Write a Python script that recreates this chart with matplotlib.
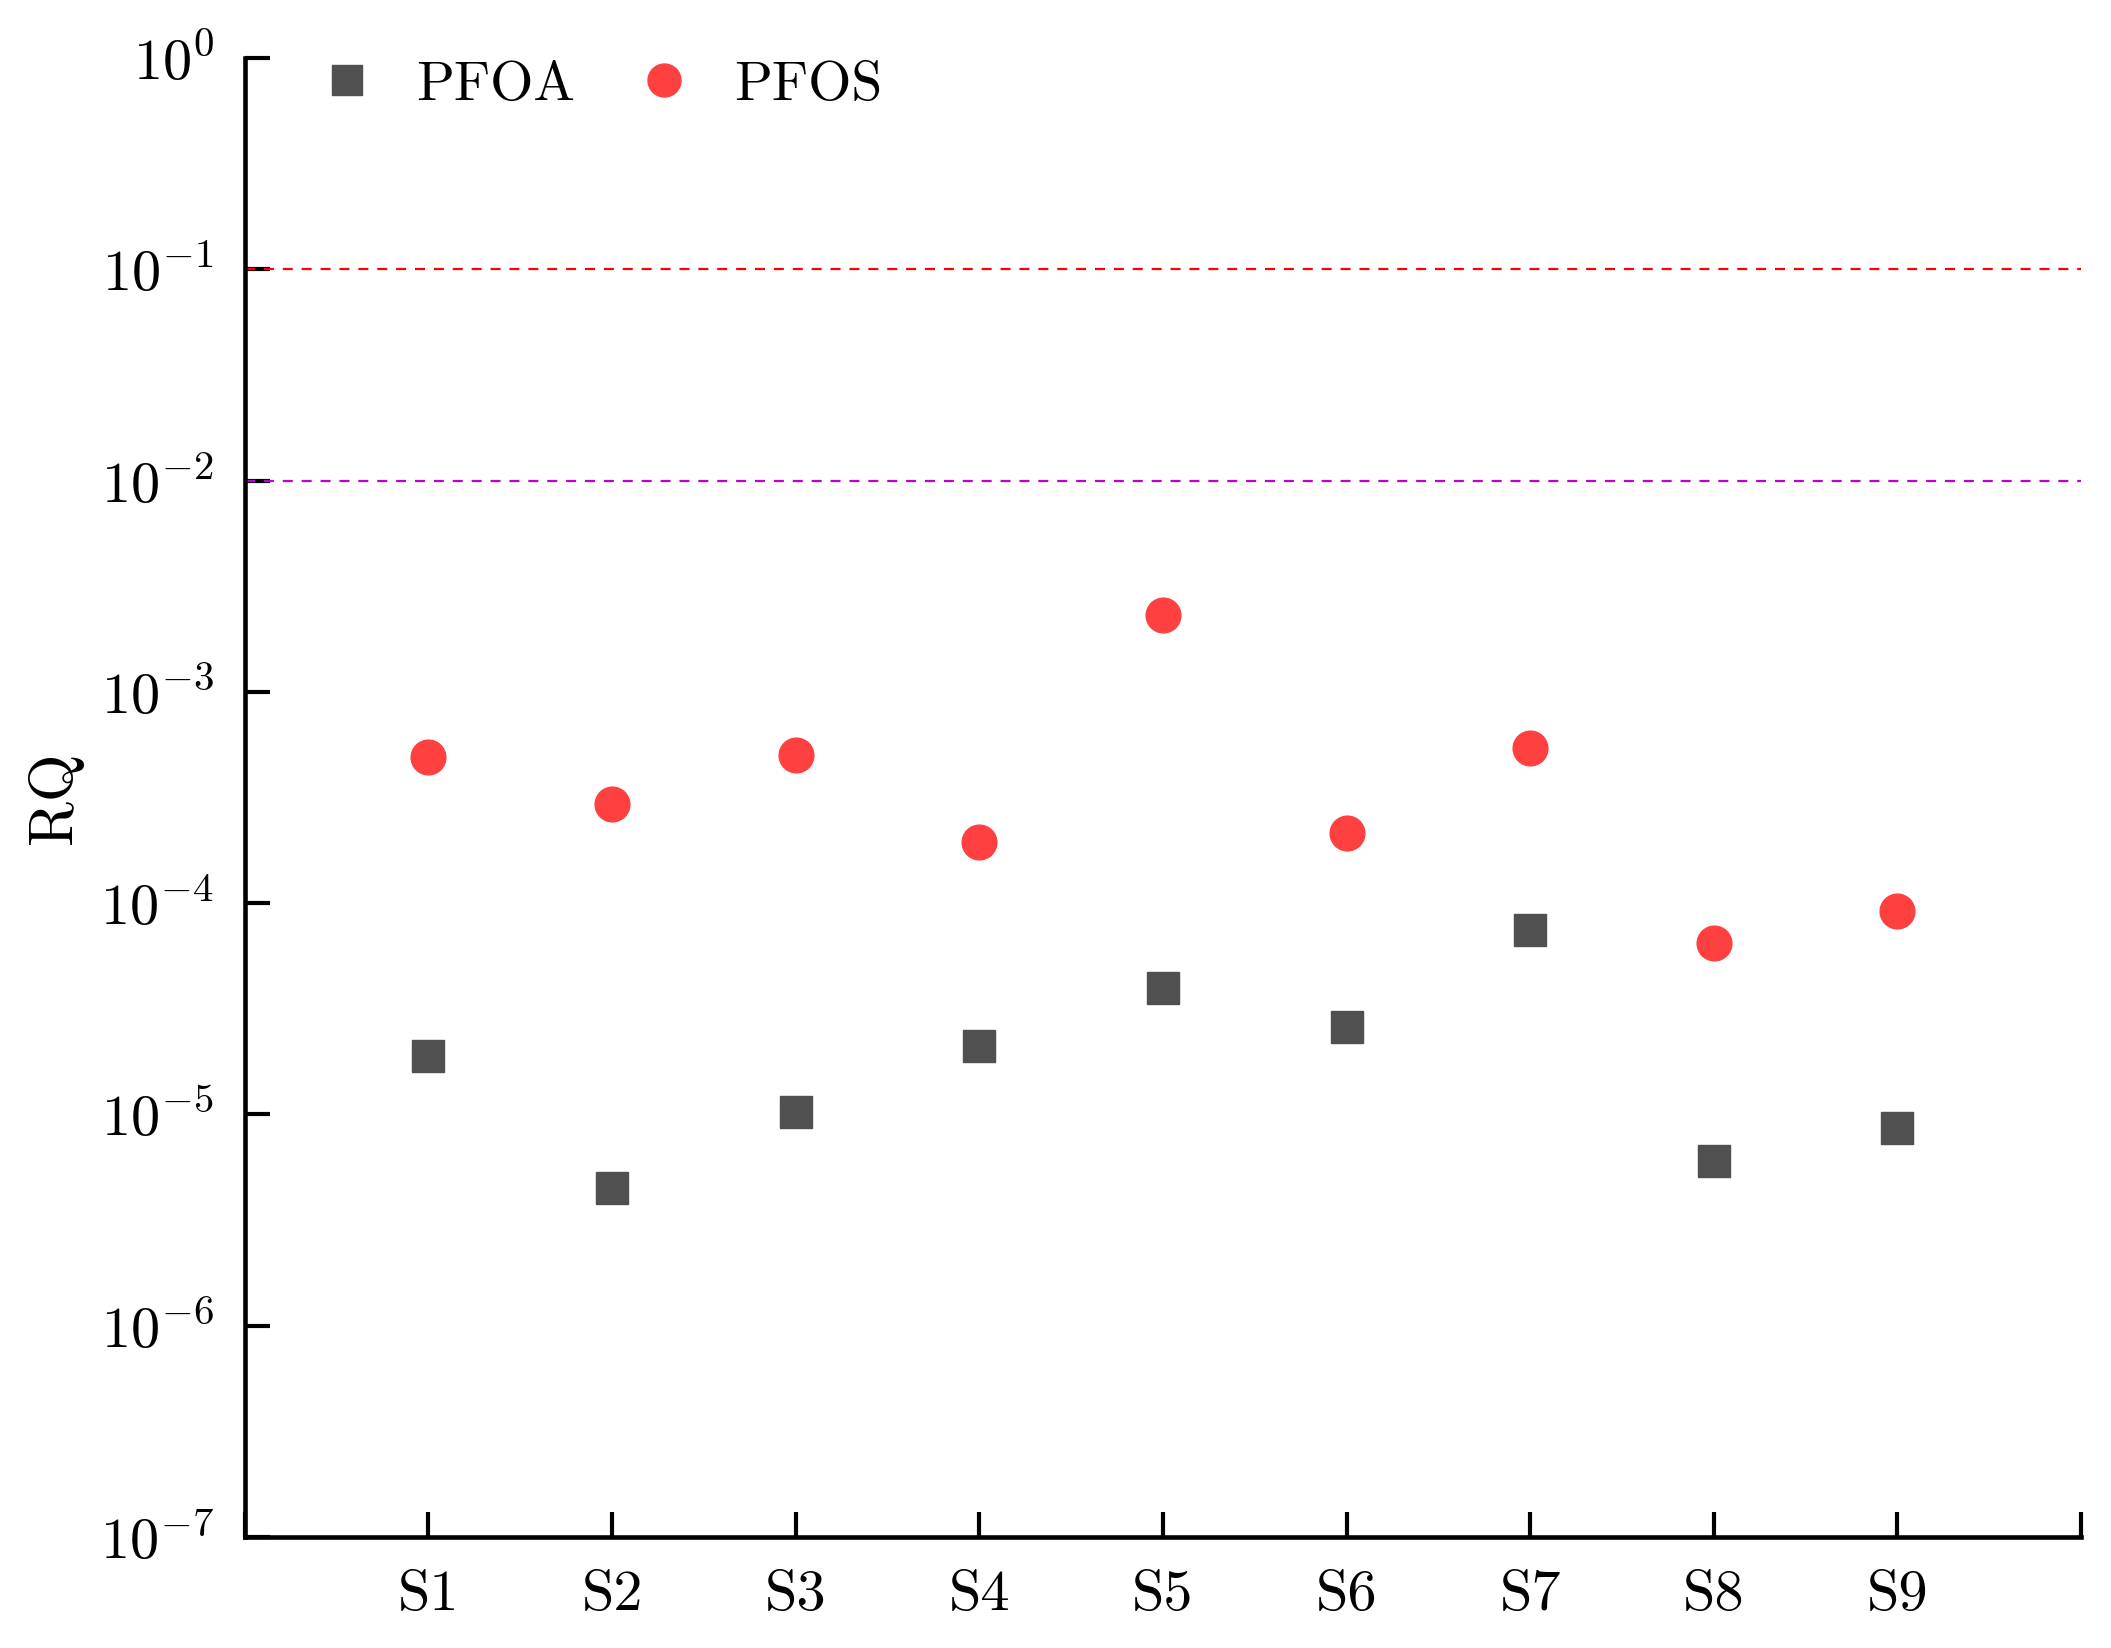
import matplotlib
matplotlib.use("Agg")
import matplotlib.pyplot as plt
from matplotlib.ticker import LogLocator, NullLocator, FixedLocator, FixedFormatter

plt.rcParams['font.family'] = ['cmr10', 'DejaVu Serif']
plt.rcParams['mathtext.fontset'] = 'cm'
plt.rcParams['axes.formatter.use_mathtext'] = True

sites = ["S1", "S2", "S3", "S4", "S5", "S6", "S7", "S8", "S9"]
pfoa = [1.88e-5, 4.5e-6, 1.03e-5, 2.1e-5, 3.97e-5, 2.6e-5, 7.45e-5, 6.0e-6, 8.6e-6]
pfos = [4.9e-4, 2.96e-4, 5.0e-4, 1.94e-4, 2.31e-3, 2.14e-4, 5.4e-4, 6.5e-5, 9.2e-5]
high_risk = 0.1
mid_risk = 0.01

x = list(range(1, len(sites) + 1))

fig = plt.figure(figsize=(21.11, 16.48), dpi=100)
ax = fig.add_axes([0.116, 0.0674, 0.8698, 0.8974])

ax.plot(x, pfoa, linestyle='none', marker='s', markersize=23,
        color='#505050', label='PFOA')
ax.plot(x, pfos, linestyle='none', marker='o', markersize=25,
        color='#ff4040', label='PFOS')

ax.axhline(high_risk, color='#ff0000', lw=1.6, linestyle=(0, (4.5, 4)))
ax.axhline(mid_risk, color='#bf00d0', lw=1.6, linestyle=(0, (4.5, 4)))

ax.set_yscale('log')
ax.set_ylim(1e-7, 1)
ax.set_xlim(0, 10)
ax.yaxis.set_major_locator(LogLocator(base=10, numticks=10))
ax.yaxis.set_minor_locator(NullLocator())

ax.xaxis.set_major_locator(FixedLocator(list(range(0, 11))))
ax.xaxis.set_major_formatter(FixedFormatter([""] + sites + [""]))

for side in ['top', 'right']:
    ax.spines[side].set_visible(False)
for side in ['left', 'bottom']:
    ax.spines[side].set_linewidth(3.3)

ax.tick_params(axis='both', direction='in', length=18, width=3, labelsize=42)
ax.tick_params(axis='y', pad=22)
ax.tick_params(axis='x', pad=24)

ax.set_ylabel('RQ', fontsize=44, labelpad=12)

ax.legend(loc='upper left', ncol=2, frameon=False, fontsize=40,
          bbox_to_anchor=(0.0133, 1.032), handlelength=1.0,
          handletextpad=0.75, columnspacing=1.1, markerscale=0.95)

fig.savefig("out.png", dpi=100)
plt.close()
